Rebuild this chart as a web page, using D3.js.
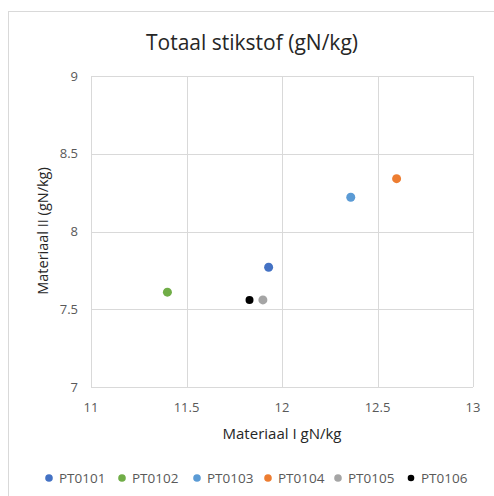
<!DOCTYPE html>
<html>
<head>
<meta charset="utf-8">
<script src="https://cdn.jsdelivr.net/npm/d3@7"></script>
<style>
  body { margin: 0; background: #fff; }
  svg text { font-family: "Open Sans", "Liberation Sans", sans-serif; }
</style>
</head>
<body>
<div id="chart"></div>
<script>
var names = ["PT0101", "PT0102", "PT0103", "PT0104", "PT0105", "PT0106"];
var colors = ["#4472C4", "#70AD47", "#5B9BD5", "#ED7D31", "#A5A5A5", "#000000"];
var xValues = [11.93, 11.40, 12.36, 12.60, 11.90, 11.83];
var yValues = [7.77, 7.61, 8.22, 8.34, 7.56, 7.56];
var xTicks = [11, 11.5, 12, 12.5, 13];
var yTicks = [7, 7.5, 8, 8.5, 9];

var W = 494, H = 496;
var plot = { left: 91, top: 76, right: 473, bottom: 387 };

var svg = d3.select("#chart").append("svg")
  .attr("width", W)
  .attr("height", H);

// outer chart border
svg.append("rect")
  .attr("x", 8.5).attr("y", 11.5)
  .attr("width", 500).attr("height", 500)
  .attr("fill", "#fff")
  .attr("stroke", "#D9D9D9");

var x = d3.scaleLinear().domain([11, 13]).range([plot.left, plot.right]);
var y = d3.scaleLinear().domain([7, 9]).range([plot.bottom, plot.top]);

// grid lines
svg.append("g").selectAll("line")
  .data(xTicks)
  .enter().append("line")
  .attr("x1", function (d) { return Math.round(x(d)) + 0.5; })
  .attr("x2", function (d) { return Math.round(x(d)) + 0.5; })
  .attr("y1", plot.top)
  .attr("y2", plot.bottom)
  .attr("stroke", "#D9D9D9");

svg.append("g").selectAll("line")
  .data(yTicks)
  .enter().append("line")
  .attr("y1", function (d) { return Math.round(y(d)) + 0.5; })
  .attr("y2", function (d) { return Math.round(y(d)) + 0.5; })
  .attr("x1", plot.left)
  .attr("x2", plot.right)
  .attr("stroke", "#D9D9D9");

// tick labels
svg.append("g").selectAll("text")
  .data(xTicks)
  .enter().append("text")
  .attr("x", function (d) { return x(d); })
  .attr("y", 412)
  .attr("text-anchor", "middle")
  .attr("font-size", 13)
  .attr("fill", "#595959")
  .text(function (d) { return d; });

svg.append("g").selectAll("text")
  .data(yTicks)
  .enter().append("text")
  .attr("x", 78)
  .attr("y", function (d) { return y(d); })
  .attr("dy", "0.35em")
  .attr("text-anchor", "end")
  .attr("font-size", 13)
  .attr("fill", "#595959")
  .text(function (d) { return d; });

// title and axis titles
svg.append("text")
  .attr("x", 252).attr("y", 50)
  .attr("text-anchor", "middle")
  .attr("font-size", 21)
  .attr("fill", "#262626")
  .text("Totaal stikstof (gN/kg)");

svg.append("text")
  .attr("x", 282).attr("y", 439)
  .attr("text-anchor", "middle")
  .attr("font-size", 15)
  .attr("fill", "#262626")
  .text("Materiaal I gN/kg");

svg.append("text")
  .attr("transform", "translate(48,231) rotate(-90)")
  .attr("text-anchor", "middle")
  .attr("font-size", 14.5)
  .attr("fill", "#262626")
  .text("Materiaal II (gN/kg)");

// points
svg.append("g").selectAll("circle")
  .data(names)
  .enter().append("circle")
  .attr("cx", function (d, i) { return x(xValues[i]); })
  .attr("cy", function (d, i) { return y(yValues[i]); })
  .attr("r", function (d, i) { return i == 5 ? 4 : 4.5; })
  .attr("fill", function (d, i) { return colors[i]; });

// legend
var legendX = [49, 122, 197, 268, 338, 411];
var legend = svg.append("g").selectAll("g")
  .data(names)
  .enter().append("g")
  .attr("transform", function (d, i) { return "translate(" + legendX[i] + ",478)"; });

legend.append("circle")
  .attr("r", function (d, i) { return i == 5 ? 3.3 : 3.8; })
  .attr("fill", function (d, i) { return colors[i]; });

legend.append("text")
  .attr("x", 10)
  .attr("dy", "0.35em")
  .attr("font-size", 13.5)
  .attr("fill", "#595959")
  .text(function (d) { return d; });
</script>
</body>
</html>
